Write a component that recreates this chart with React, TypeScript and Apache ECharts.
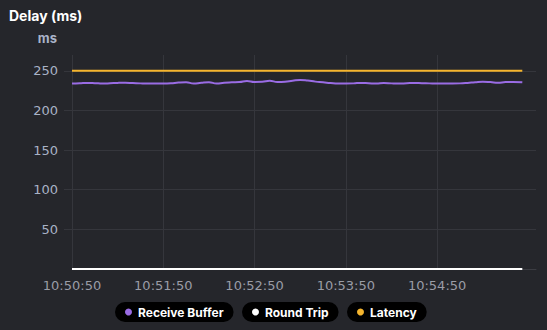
import React, { useEffect, useRef } from "react";
import * as echarts from "echarts";

const startSeconds = 10 * 3600 + 50 * 60 + 50;
const seconds = [
  0, 5, 10, 15, 20, 25, 30, 35, 40, 45, 50, 55, 60, 65, 70, 75, 80, 85, 90, 95,
  100, 105, 110, 115, 120, 125, 130, 135, 140, 145, 150, 155, 160, 165, 170, 175, 180, 185, 190, 195,
  200, 205, 210, 215, 220, 225, 230, 235, 240, 245, 250, 255, 260, 265, 270, 275, 280, 285, 290, 296,
];
const receiveBuffer = [
  234.0, 234.3, 234.8, 234.5, 234.0, 234.3, 234.8, 235.0, 234.6, 234.2, 234.0, 234.0, 234.0, 234.3, 235.2, 235.6, 234.0, 235.0, 235.6, 234.0,
  235.0, 235.5, 235.8, 237.2, 236.0, 236.2, 237.4, 236.0, 236.3, 237.6, 238.6, 237.8, 236.4, 235.6, 234.6, 234.0, 234.0, 234.2, 234.8, 234.4,
  234.0, 234.6, 234.2, 234.0, 234.4, 234.8, 234.5, 234.2, 234.0, 234.0, 234.0, 234.2, 234.8, 235.6, 236.2, 235.8, 235.0, 235.8, 236.0, 235.6,
];
const roundTrip = seconds.map(() => 0);
const latency = seconds.map(() => 250);
const yTicks = [50, 100, 150, 200, 250];

const fmt = (s: number) => {
  const t = startSeconds + s;
  const h = Math.floor(t / 3600);
  const m = Math.floor((t % 3600) / 60);
  const sec = t % 60;
  const p = (n: number) => String(n).padStart(2, "0");
  return `${h}:${p(m)}:${p(sec)}`;
};

export default function App() {
  const ref = useRef<HTMLDivElement>(null);
  useEffect(() => {
    document.body.style.margin = "0";
    document.body.style.background = "#25262b";
    const chart = echarts.init(ref.current!, null, { renderer: "svg" });
    const grid = "#35363c";
    const pair = (arr: number[]) => seconds.map((s, i) => [s, arr[i]]);
    const legendBase = {
      top: 302,
      orient: "horizontal",
      backgroundColor: "#000000",
      borderRadius: 11,
      padding: [4, 10, 4, 10],
      itemWidth: 7,
      itemHeight: 7,
      icon: "circle",
      itemGap: 0,
      textStyle: { color: "#ffffff", fontWeight: "bold", fontSize: 12, fontFamily: "Inter", padding: [0, 0, 0, 1] },
    };
    chart.setOption({
      animation: false,
      backgroundColor: "#25262b",
      textStyle: { fontFamily: "Inter" },
      title: {
        text: "Delay (ms)",
        left: 4,
        top: 3,
        textStyle: { color: "#ffffff", fontSize: 14, fontWeight: "bold", fontFamily: "Inter" },
      },
      grid: { left: 72, right: 11, top: 55, bottom: 61 },
      legend: [
        { ...legendBase, left: 115, data: ["Receive Buffer"] },
        { ...legendBase, left: 242, data: ["Round Trip"] },
        { ...legendBase, left: 347, data: ["Latency"] },
      ],
      xAxis: {
        type: "value",
        min: 0,
        max: 305,
        interval: 60,
        axisLine: { show: true, lineStyle: { color: "#3c3d43", width: 1 } },
        axisTick: { show: false },
        splitLine: {
          show: true,
          showMaxLine: false,
          lineStyle: { color: [grid, grid, grid, grid, grid, "transparent", "transparent"] },
        },
        axisLabel: {
          color: "#9a9ca6",
          fontSize: 13,
          fontFamily: "DejaVu Sans",
          margin: 10,
          showMaxLabel: false,
          formatter: (v: number) => (v >= 300 ? "" : fmt(v)),
        },
      },
      yAxis: {
        type: "value",
        min: 0,
        max: 270,
        interval: 50,
        name: "ms",
        nameLocation: "end",
        nameGap: 11,
        nameTextStyle: { color: "#aab3c8", fontWeight: "bold", fontSize: 13, align: "right", padding: [0, 15, 0, 0] },
        axisLine: { show: false },
        axisTick: { show: true, length: 8, lineStyle: { color: grid } },
        splitLine: {
          show: true,
          showMaxLine: false,
          lineStyle: { color: [grid, grid, grid, grid, grid, grid, "transparent"] },
        },
        axisLabel: {
          color: "#a9b2c6",
          fontSize: 13,
          fontFamily: "DejaVu Sans",
          margin: 14,
          showMinLabel: false,
          showMaxLabel: false,
          formatter: (v: number) => (yTicks.includes(v) ? String(v) : ""),
        },
      },
      series: [
        {
          name: "Receive Buffer",
          type: "line",
          data: pair(receiveBuffer),
          smooth: true,
          showSymbol: false,
          symbol: "circle",
          color: "#9a6ce4",
          lineStyle: { width: 2, color: "#9a6ce4" },
        },
        {
          name: "Round Trip",
          type: "line",
          data: pair(roundTrip),
          showSymbol: false,
          symbol: "circle",
          color: "#ffffff",
          lineStyle: { width: 2, color: "#ffffff" },
        },
        {
          name: "Latency",
          type: "line",
          data: pair(latency),
          showSymbol: false,
          symbol: "circle",
          color: "#f5b52e",
          lineStyle: { width: 2, color: "#f5b52e" },
        },
      ],
    });
    return () => chart.dispose();
  }, []);
  return <div ref={ref} style={{ width: 547, height: 330 }} />;
}
